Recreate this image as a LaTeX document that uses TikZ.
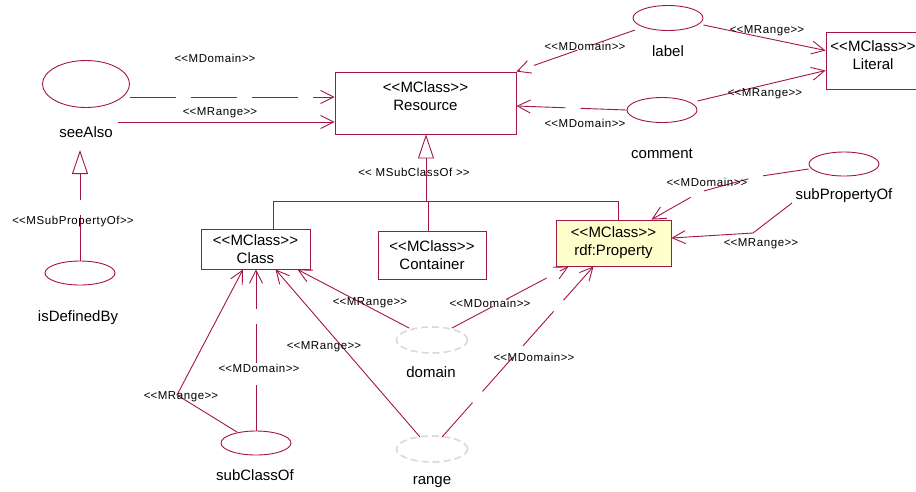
\documentclass[tikz,border=0pt]{standalone}
\usepackage{fontspec}
\setmainfont{Liberation Sans}
\newfontfamily\smallfnt[LetterSpace=5]{Liberation Sans}
\usetikzlibrary{arrows.meta,shapes.geometric}
\definecolor{umlred}{RGB}{163,22,72}
\definecolor{propfill}{RGB}{255,255,204}
\newcommand\mystereo[1]{<\kern0pt<#1>\kern0pt>}
\begin{document}
\begin{tikzpicture}[x=1pt,y=-1pt,
  box/.style={draw=umlred, line width=0.9pt, rectangle, inner sep=0pt},
  uc/.style={draw=umlred, line width=0.9pt, ellipse, inner sep=0pt, minimum width=70pt, minimum height=25pt},
  ghost/.style={draw=gray!30, line width=1.6pt, dash pattern=on 7pt off 4pt, ellipse, inner sep=0pt, minimum width=71pt, minimum height=26pt},
  txt/.style={font=\fontsize{15}{18}\selectfont, align=center, inner sep=0pt},
  stereo/.style={font=\smallfnt\fontsize{11.5}{13}\selectfont, inner sep=1pt},
  conn/.style={draw=umlred, line width=0.9pt},
  rng/.style={conn, -{Straight Barb[length=13pt,width=13pt]}},
  dom/.style={rng, dash pattern=on 46pt off 15pt},
  gen/.style={conn, -{Triangle[open, length=24pt, width=16pt, fill=white]}},
]
\fill[white] (0,0) rectangle (916,491);
\useasboundingbox (0,0) rectangle (916,491);

% use-case ellipses and their names
\node[uc, minimum width=87pt, minimum height=47pt] (seeAlso) at (86,84) {};
\node[txt] (seeAlsoT) at (86,132) {seeAlso};
\node[uc] (lab) at (668,18) {};
\node[txt] (labT) at (668,51) {label};
\node[uc] (com) at (662,110) {};
\node[txt] (comT) at (662,154) {comment};
\node[uc, minimum height=24pt] (sp) at (844,164) {};
\node[txt] (spT) at (844,196) {subPropertyOf};
\node[uc, minimum height=24pt] (idb) at (80,273) {};
\node[txt] (idbT) at (78,318) {isDefinedBy};
\node[uc, minimum height=24pt] (sc) at (256,443) {};
\node[txt] (scT) at (255,475) {subClassOf};
\node[ghost] (domE) at (432,340) {};
\node[txt] (domT) at (431,372) {domain};
\node[ghost] (rngE) at (432,449) {};
\node[txt] (rngT) at (432,482) {range};

% class boxes
\node[box, minimum width=181pt, minimum height=62pt] (Resource) at (425.5,103) {};
\node[txt] (ResourceT) at (425.5,96) {\mystereo{MClass}\\Resource};
\node[box, txt, minimum width=109pt, minimum height=40pt] (Class) at (255.5,249) {\mystereo{MClass}\\Class};
\node[box, txt, minimum width=108pt, minimum height=48pt] (Container) at (432,255) {\mystereo{MClass}\\Container};
\node[box, txt, fill=propfill, minimum width=115pt, minimum height=46pt] (Property) at (613.5,243) {\mystereo{MClass}\\rdf:Property};
\node[box, minimum width=98pt, minimum height=57pt] (Literal) at (875,60.5) {};
\node[txt] (LiteralT) at (873,55.5) {\mystereo{MClass}\\Literal};

% generalization tree
\coordinate (tk) at (426,201);
\coordinate (tc) at (273,201);
\coordinate (tp) at (618,201);
\coordinate (tcont) at (428,201);
\draw[conn] (Class.north -| tc) -- (tc) -- (tp) -- (Property.north -| tp);
\draw[conn] (Container.north -| tcont) -- (tcont);
\draw[gen] (tk) -- (tk |- Resource.south);

\coordinate (saApex) at (80,150);
\draw[gen, dash pattern=on 46pt off 15pt] (idb.north) -- (idb.north |- saApex);

% associations
\draw[dom] ([yshift=-13pt]seeAlso.east) -- ([yshift=6pt]Resource.west);
\draw[rng] ([xshift=32pt,yshift=10pt]seeAlsoT.center) -- ([yshift=-19pt]Resource.west);
\draw[dom] ([shift={(-33pt,-12pt)}]lab.center) -- (Resource.north east);
\draw[dom] (com.west) -- ([yshift=-3pt]Resource.east);
\draw[rng] ([yshift=-7pt]lab.east) -- ([yshift=10pt]Literal.west);
\draw[rng] ([yshift=9pt]com.east) -- ([yshift=-10pt]Literal.west);
\coordinate (b1) at (755,177);
\coordinate (b2) at (700,192);
\draw[dom] ([yshift=-5pt]sp.west) -- (b1) -- (b2) -- ([xshift=38pt]Property.north);
\coordinate (b3) at (753,233);
\draw[rng] ([shift={(-52pt,-7pt)}]spT.center) -- (b3) -- ([yshift=5pt]Property.east);
\draw[rng] ([shift={(-23pt,12pt)}]domE.center) -- ([xshift=-13pt]Class.south east);
\draw[dom] ([shift={(20pt,12pt)}]domE.center) -- ([xshift=13pt]Property.south west);
\draw[rng] ([shift={(-12pt,12pt)}]rngE.center) -- ([xshift=20pt]Class.south);
\draw[dom] ([shift={(10pt,12pt)}]rngE.center) -- ([xshift=-20pt]Property.south);
\coordinate (b4) at (177,395);
\draw[rng] ([shift={(-19pt,11pt)}]sc.center) -- (b4) -- ([xshift=-12.5pt]Class.south);
\draw[dom] (sc.north) -- (sc.north |- Class.south);

% stereotype labels
\node[stereo] (l1) at (215,58) {\mystereo{MDomain}};
\node[stereo] (l2) at (220,113) {\mystereo{MRange}};
\node[stereo] (l3) at (585,46) {\mystereo{MDomain}};
\node[stereo] (l4) at (585,123) {\mystereo{MDomain}};
\node[stereo] (l5) at (767,31) {\mystereo{MRange}};
\node[stereo] (l6) at (765,94) {\mystereo{MRange}};
\node[stereo] (l7) at (707,182) {\mystereo{MDomain}};
\node[stereo] (l8) at (761,244) {\mystereo{MRange}};
\node[stereo] (l9) at (370,303) {\mystereo{MRange}};
\node[stereo] (l10) at (490,303) {\mystereo{MDomain}};
\node[stereo] (l11) at (324,347) {\mystereo{MRange}};
\node[stereo] (l12) at (534,357) {\mystereo{MDomain}};
\node[stereo] (l13) at (181,397) {\mystereo{MRange}};
\node[stereo, fill=white] (l14) at (259,368) {\mystereo{MDomain}};
\node[stereo] (l15) at (73,222) {\mystereo{MSubPropertyOf}};
\node[stereo] (l16) at (414,172) {<\kern0pt< MSubClassOf >\kern0pt>};
\end{tikzpicture}
\end{document}
